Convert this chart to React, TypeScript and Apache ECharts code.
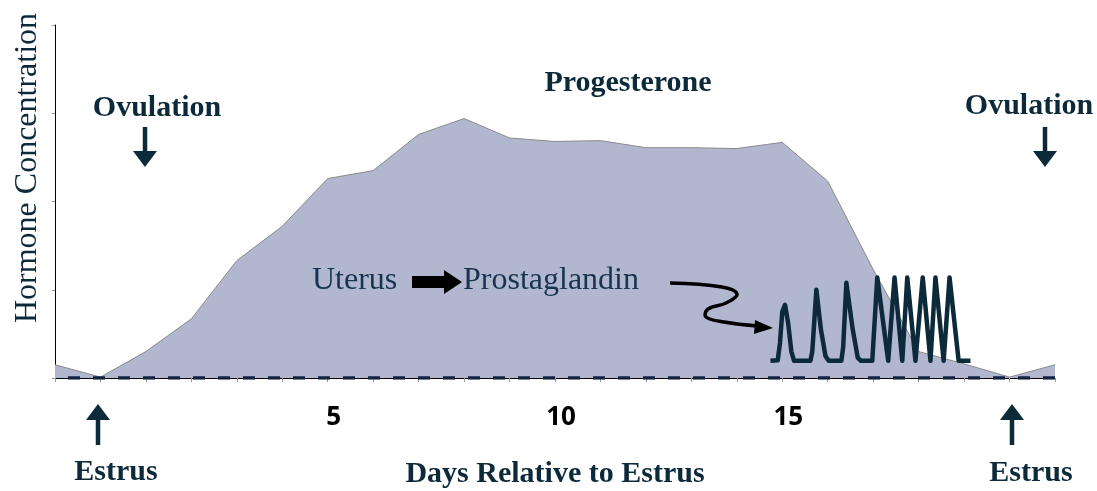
import React, { useEffect, useRef } from "react";
import * as echarts from "echarts";

// Days relative to estrus (x axis)
const days = [-1, 0, 1, 2, 3, 4, 5, 6, 7, 8, 9, 10, 11, 12, 13, 14, 15, 16, 17, 18, 19, 20, 21];
// Progesterone concentration (arbitrary units, 0–4)
const progesterone = [0.15, 0.01, 0.3, 0.67, 1.33, 1.72, 2.26, 2.35, 2.76, 2.94, 2.72, 2.68, 2.69, 2.61, 2.61, 2.6, 2.67, 2.23, 1.23, 0.3, 0.16, 0.01, 0.15];
// Prostaglandin pulses: day positions and values
const prostaglandinDays = [14.74, 14.9, 14.95, 15.0, 15.06, 15.13, 15.2, 15.26, 15.62, 15.66, 15.75, 15.85, 15.95, 16.02, 16.3, 16.34, 16.41, 16.55, 16.66, 16.73, 16.98, 17.09, 17.33, 17.47, 17.64, 17.75, 17.93, 18.09, 18.26, 18.37, 18.55, 18.68, 18.88, 19.14];
const prostaglandinValues = [0.195, 0.2, 0.4, 0.75, 0.83, 0.62, 0.3, 0.195, 0.195, 0.3, 1.0, 0.55, 0.25, 0.195, 0.195, 0.35, 1.08, 0.55, 0.23, 0.195, 0.195, 1.14, 0.195, 1.14, 0.195, 1.14, 0.195, 1.14, 0.195, 1.14, 0.195, 1.14, 0.195, 0.195];
const labelledDays = [5, 10, 15];

const NAVY = "#0D2A3A";
const SERIF = '"Liberation Serif", "Times New Roman", serif';

export default function App() {
  const ref = useRef<HTMLDivElement>(null);
  useEffect(() => {
    const chart = echarts.init(ref.current!, null, { renderer: "svg" });
    const progData = days.map((d, i) => [d, progesterone[i]]);
    const pgData = prostaglandinDays.map((d, i) => [d, prostaglandinValues[i]]);
    const txt = (text: string, x: number, y: number, opts: any = {}) => ({
      type: "text",
      x,
      y,
      z: 100,
      rotation: opts.rotation || 0,
      style: {
        text,
        fill: opts.fill || NAVY,
        fontFamily: SERIF,
        fontSize: opts.fontSize || 30,
        fontWeight: opts.fontWeight || "bold",
        align: opts.align || "center",
        verticalAlign: "middle",
      },
    });
    const downArrow = (x: number) => [
      { type: "line", z: 100, shape: { x1: x, y1: 127, x2: x, y2: 153 }, style: { stroke: NAVY, lineWidth: 4.5 } },
      { type: "polygon", z: 100, shape: { points: [[x - 12, 151], [x + 12, 151], [x, 167]] }, style: { fill: NAVY } },
    ];
    const upArrow = (x: number) => [
      { type: "line", z: 100, shape: { x1: x, y1: 418, x2: x, y2: 445 }, style: { stroke: NAVY, lineWidth: 4.5 } },
      { type: "polygon", z: 100, shape: { points: [[x - 12, 420], [x + 12, 420], [x, 404]] }, style: { fill: NAVY } },
    ];
    chart.setOption({
      animation: false,
      grid: { left: 55, right: 42, top: 25, bottom: 112 },
      xAxis: {
        type: "value",
        min: -1,
        max: 21,
        interval: 1,
        name: "Days Relative to Estrus",
        nameLocation: "middle",
        nameGap: 78,
        nameTextStyle: { color: NAVY, fontFamily: SERIF, fontSize: 30, fontWeight: "bold" },
        axisLine: { onZero: false, lineStyle: { color: "#000", width: 1 } },
        axisTick: { show: true, length: 4, lineStyle: { color: "#999" } },
        axisLabel: {
          formatter: (v: number) => (labelledDays.includes(v) ? String(v) : ""),
          color: "#000",
          fontFamily: '"Open Sans", sans-serif',
          fontWeight: "bold",
          fontSize: 26,
          margin: 24,
          padding: [0, 0, 0, 12],
        },
        splitLine: { show: false },
      },
      yAxis: {
        type: "value",
        min: 0,
        max: 4,
        interval: 1,
        axisLine: { show: true, onZero: false, lineStyle: { color: "#000", width: 1 } },
        axisTick: { show: true, length: 3, lineStyle: { color: "#999" } },
        axisLabel: { show: false },
        splitLine: { show: false },
      },
      series: [
        {
          name: "Progesterone",
          type: "line",
          data: progData,
          symbol: "none",
          lineStyle: { color: "#8a8a8a", width: 1 },
          areaStyle: { color: "#B2B7D0", opacity: 1 },
          z: 1,
        },
        {
          name: "Baseline",
          type: "line",
          data: [[-1, 0], [21, 0]],
          symbol: "none",
          lineStyle: { color: "#15223F", width: 3.5, type: [12, 13], dashOffset: 12 },
          z: 2,
        },
        {
          name: "Prostaglandin",
          type: "line",
          data: pgData,
          symbol: "none",
          lineStyle: { color: NAVY, width: 4.5, join: "round" },
          z: 3,
        },
      ],
      graphic: [
        txt("Hormone Concentration", 25, 168, { rotation: Math.PI / 2, fontWeight: "normal", fontSize: 32 }),
        txt("Progesterone", 628, 80),
        txt("Ovulation", 157, 105),
        txt("Ovulation", 1029, 103),
        ...downArrow(145),
        ...downArrow(1045),
        ...upArrow(98),
        ...upArrow(1012),
        txt("Estrus", 116, 469),
        txt("Estrus", 1031, 470),
        txt("Uterus", 312, 278, { align: "left", fontWeight: "normal", fontSize: 32, fill: "#17334F" }),
        txt("Prostaglandin", 463, 278, { align: "left", fontWeight: "normal", fontSize: 32, fill: "#17334F" }),
        {
          type: "polygon",
          z: 100,
          shape: { points: [[412, 276], [444, 276], [444, 270], [462, 282], [444, 294], [444, 288], [412, 288]] },
          style: { fill: "#000" },
        },
        {
          type: "polyline",
          z: 100,
          shape: {
            points: [[670, 283], [722, 287], [737, 294], [726, 303], [708, 309], [706, 317], [724, 322], [758, 326]],
            smooth: 0.4,
          },
          style: { stroke: "#000", lineWidth: 3.5, fill: null },
        },
        {
          type: "polygon",
          z: 100,
          shape: { points: [[755, 320], [773, 328], [754, 334]] },
          style: { fill: "#000" },
        },
      ],
    });
    return () => chart.dispose();
  }, []);
  return <div ref={ref} style={{ position: "fixed", left: 0, top: 0, width: 1097, height: 491 }} />;
}
